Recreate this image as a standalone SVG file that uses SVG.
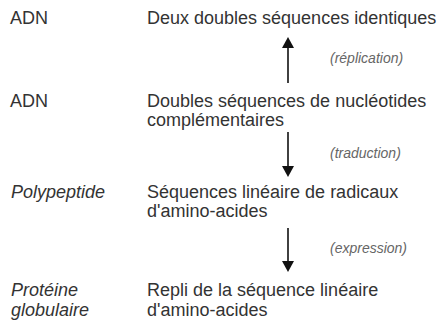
<svg xmlns="http://www.w3.org/2000/svg" width="438" height="322" viewBox="0 0 438 322">
<style>
.t{font-family:"Liberation Sans",Arial,sans-serif;font-size:18px;fill:#333}
.i{font-style:italic}
.lbl{font-family:"Liberation Sans",Arial,sans-serif;font-size:14px;font-style:italic;fill:#666}
.ln{stroke:#111;stroke-width:1.6}
.hd{fill:#111}
</style>
<rect width="438" height="322" fill="#fff"/>
<g id="n1"><text class="t" x="10" y="24">ADN</text><text class="t" x="147" y="24">Deux doubles séquences identiques</text></g>
<g id="n2"><text class="t" x="10" y="107">ADN</text><text class="t" x="147" y="107">Doubles séquences de nucléotides</text><text class="t" x="147" y="126">complémentaires</text></g>
<g id="n3"><text class="t i" x="11" y="198">Polypeptide</text><text class="t" x="147" y="198">Séquences linéaire de radicaux</text><text class="t" x="147" y="217">d'amino-acides</text></g>
<g id="n4"><text class="t i" x="11" y="296">Protéine</text><text class="t i" x="11" y="316">globulaire</text><text class="t" x="147" y="296">Repli de la séquence linéaire</text><text class="t" x="147" y="316">d'amino-acides</text></g>
<g id="connectors">
<line class="ln" x1="288" y1="83" x2="288" y2="48"/>
<polygon class="hd" points="282,48 294,48 288,37"/>
<line class="ln" x1="288" y1="132" x2="288" y2="167"/>
<polygon class="hd" points="282,166 294,166 288,177"/>
<line class="ln" x1="288" y1="228" x2="288" y2="262"/>
<polygon class="hd" points="282,261 294,261 288,272"/>
<text class="lbl" x="330" y="63">(réplication)</text>
<text class="lbl" x="330" y="158">(traduction)</text>
<text class="lbl" x="330" y="253">(expression)</text>
</g>
</svg>
